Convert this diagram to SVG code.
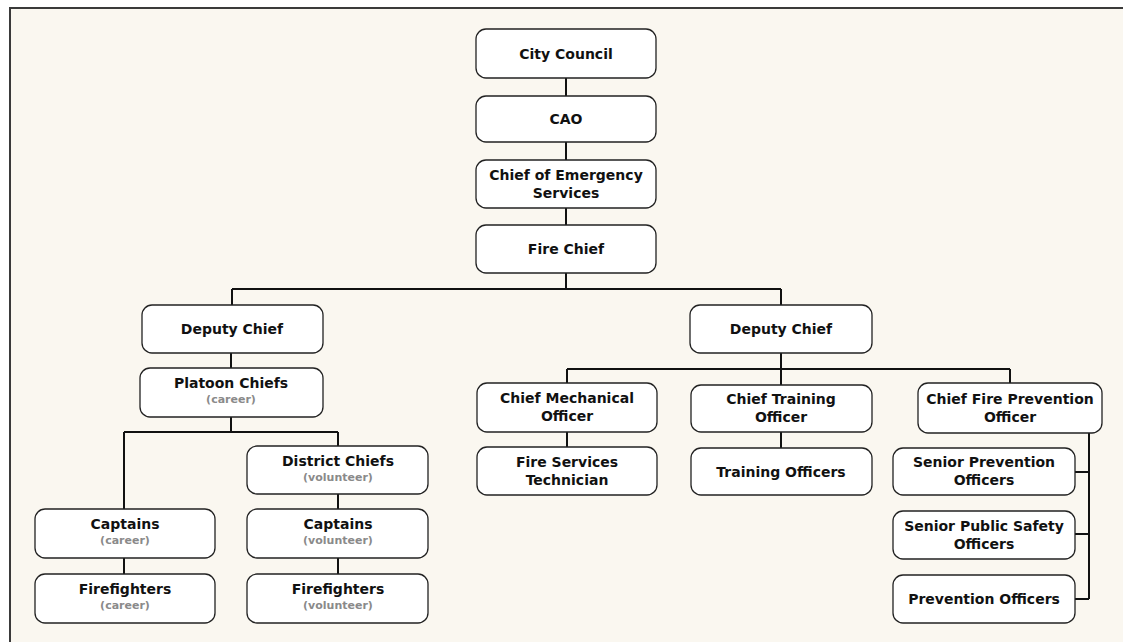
<svg xmlns="http://www.w3.org/2000/svg" width="1123" height="642" viewBox="0 0 1123 642">
<style>
.n{fill:#fff;stroke:#222;stroke-width:1.3}
.t{font-family:"DejaVu Sans",sans-serif;font-weight:bold;font-size:14px;fill:#111;text-anchor:middle}
.s{font-family:"DejaVu Sans",sans-serif;font-weight:bold;font-size:11px;fill:#8a8a8a;text-anchor:middle}
.c{fill:none;stroke:#111;stroke-width:2}
</style>
<rect x="0" y="0" width="1123" height="642" fill="#fff"/>
<rect x="10" y="8" width="1125" height="650" fill="#FAF7F0" stroke="#3a3a3a" stroke-width="2"/>
<g id="connectors">
<path class="c" d="M566 78V96M566 142V160M566 208V225M566 273V289M232 289H781M232 289V305M781 289V305"/>
<path class="c" d="M231 353V368M231 417V432M124 432H338M124 432V509M338 432V446M338 494V509M124 558V574M338 558V574"/>
<path class="c" d="M781 353V369M567 369H1010M567 369V383M781 369V385M1010 369V383M567 432V447M781 432V448"/>
<path class="c" d="M1089 433V599M1075 472H1089M1075 534H1089M1075 599H1089"/>
</g>
<g id="city-council"><rect class="n" x="476" y="29" width="180" height="49" rx="10"/><text class="t" x="566" y="58.5">City Council</text></g>
<g id="cao"><rect class="n" x="476" y="96" width="180" height="46" rx="10"/><text class="t" x="566" y="124">CAO</text></g>
<g id="chief-emergency"><rect class="n" x="476" y="160" width="180" height="48" rx="10"/><text class="t" x="566" y="180">Chief of Emergency</text><text class="t" x="566" y="198">Services</text></g>
<g id="fire-chief"><rect class="n" x="476" y="225" width="180" height="48" rx="10"/><text class="t" x="566" y="254">Fire Chief</text></g>
<g id="deputy-left"><rect class="n" x="142" y="305" width="181" height="48" rx="10"/><text class="t" x="232" y="334">Deputy Chief</text></g>
<g id="platoon"><rect class="n" x="140" y="368" width="183" height="49" rx="10"/><text class="t" x="231" y="388">Platoon Chiefs</text><text class="s" x="231" y="402.5">(career)</text></g>
<g id="district"><rect class="n" x="247" y="446" width="181" height="48" rx="10"/><text class="t" x="338" y="466">District Chiefs</text><text class="s" x="338" y="480.5">(volunteer)</text></g>
<g id="captains-career"><rect class="n" x="35" y="509" width="180" height="49" rx="10"/><text class="t" x="125" y="529">Captains</text><text class="s" x="125" y="543.5">(career)</text></g>
<g id="captains-volunteer"><rect class="n" x="247" y="509" width="181" height="49" rx="10"/><text class="t" x="338" y="529">Captains</text><text class="s" x="338" y="543.5">(volunteer)</text></g>
<g id="ff-career"><rect class="n" x="35" y="574" width="180" height="49" rx="10"/><text class="t" x="125" y="594">Firefighters</text><text class="s" x="125" y="608.5">(career)</text></g>
<g id="ff-volunteer"><rect class="n" x="247" y="574" width="181" height="49" rx="10"/><text class="t" x="338" y="594">Firefighters</text><text class="s" x="338" y="608.5">(volunteer)</text></g>
<g id="deputy-right"><rect class="n" x="690" y="305" width="182" height="48" rx="10"/><text class="t" x="781" y="334">Deputy Chief</text></g>
<g id="chief-mech"><rect class="n" x="477" y="383" width="180" height="49" rx="10"/><text class="t" x="567" y="403">Chief Mechanical</text><text class="t" x="567" y="421">Officer</text></g>
<g id="chief-training"><rect class="n" x="691" y="385" width="181" height="47" rx="10"/><text class="t" x="781" y="404">Chief Training</text><text class="t" x="781" y="422">Officer</text></g>
<g id="chief-prevention"><rect class="n" x="918" y="383" width="184" height="50" rx="10"/><text class="t" x="1010" y="403.5">Chief Fire Prevention</text><text class="t" x="1010" y="421.5">Officer</text></g>
<g id="fst"><rect class="n" x="477" y="447" width="180" height="48" rx="10"/><text class="t" x="567" y="466.5">Fire Services</text><text class="t" x="567" y="484.5">Technician</text></g>
<g id="training-officers"><rect class="n" x="691" y="448" width="181" height="47" rx="10"/><text class="t" x="781" y="476.5">Training Officers</text></g>
<g id="senior-prevention"><rect class="n" x="893" y="448" width="182" height="47" rx="10"/><text class="t" x="984" y="467">Senior Prevention</text><text class="t" x="984" y="485">Officers</text></g>
<g id="senior-public"><rect class="n" x="893" y="511" width="182" height="48" rx="10"/><text class="t" x="984" y="530.5">Senior Public Safety</text><text class="t" x="984" y="548.5">Officers</text></g>
<g id="prevention-officers"><rect class="n" x="893" y="575" width="182" height="48" rx="10"/><text class="t" x="984" y="604">Prevention Officers</text></g>
</svg>
